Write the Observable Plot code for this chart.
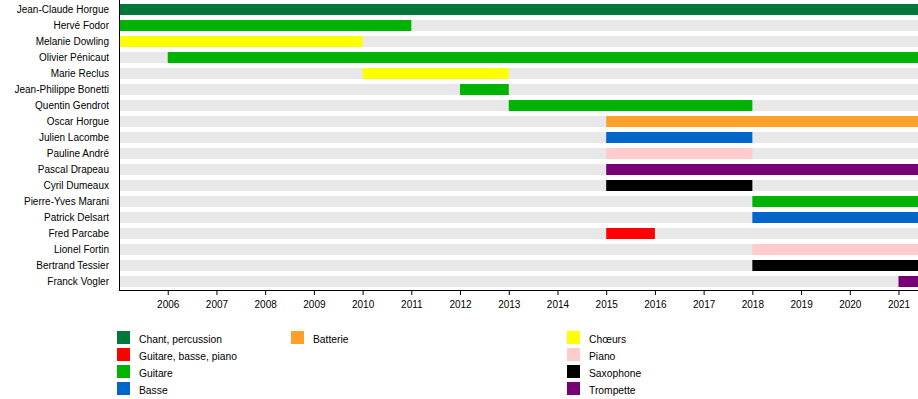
<!DOCTYPE html>
<html>
<head>
<meta charset="utf-8">
<script src="https://cdn.jsdelivr.net/npm/d3@7"></script>
<script src="https://cdn.jsdelivr.net/npm/@observablehq/plot@0.6"></script>
<style>
  html, body { margin: 0; padding: 0; background: #fff; }
  #wrap { position: relative; width: 918px; height: 399px; font-family: "Liberation Sans", Arial, sans-serif; }
  #wrap svg { display: block; }
  #legend { position: absolute; top: 331px; left: 117px; display: flex; font-size: 10.3px; color: #000; }
  .col { display: flex; flex-direction: column; }
  .item { display: flex; height: 17px; align-items: flex-start; }
  .sw { width: 13px; height: 13px; margin-right: 9px; }
  .lab { line-height: 17px; white-space: nowrap; }
</style>
</head>
<body>
<div id="wrap"><div id="legend"></div></div>
<script>
// ---- data ----
const members = [
  "Jean-Claude Horgue", "Hervé Fodor", "Melanie Dowling", "Olivier Pénicaut",
  "Marie Reclus", "Jean-Philippe Bonetti", "Quentin Gendrot", "Oscar Horgue",
  "Julien Lacombe", "Pauline André", "Pascal Drapeau", "Cyril Dumeaux",
  "Pierre-Yves Marani", "Patrick Delsart", "Fred Parcabe", "Lionel Fortin",
  "Bertrand Tessier", "Franck Vogler"
];
const timelineStart = 2005;
const timelineEnd = 2021.4;
const starts = [2005, 2005, 2005, 2006, 2010, 2012, 2013, 2015, 2015, 2015, 2015, 2015, 2018, 2018, 2015, 2018, 2018, 2021];
const ends   = [timelineEnd, 2011, 2010, timelineEnd, 2013, 2013, 2018, timelineEnd, 2018, 2018, timelineEnd, 2018, timelineEnd, timelineEnd, 2016, timelineEnd, timelineEnd, timelineEnd];
const roles  = [
  "Chant, percussion", "Guitare", "Chœurs", "Guitare",
  "Chœurs", "Guitare", "Guitare", "Batterie",
  "Basse", "Piano", "Trompette", "Saxophone",
  "Guitare", "Basse", "Guitare, basse, piano", "Piano",
  "Saxophone", "Trompette"
];
const instruments = ["Chant, percussion", "Guitare, basse, piano", "Guitare", "Basse", "Batterie", "Chœurs", "Piano", "Saxophone", "Trompette"];
const instrumentColors = ["#00773b", "#ff0000", "#00b300", "#0066cc", "#ffa02a", "#ffff00", "#ffcccc", "#000000", "#770077"];
const legendColumns = [
  ["Chant, percussion", "Guitare, basse, piano", "Guitare", "Basse"],
  ["Batterie"],
  ["Chœurs", "Piano", "Saxophone", "Trompette"]
];
const yearTicks = d3.range(2006, 2022);

// ---- build ----
const periods = members.map((name, i) => ({name, start: starts[i], end: ends[i], role: roles[i]}));
const rows = members.map(name => ({name, start: timelineStart, end: timelineEnd}));

const chart = Plot.plot({
  width: 918,
  height: 315,
  marginLeft: 119,
  marginRight: 0,
  marginTop: 0,
  marginBottom: 25,
  style: {fontFamily: '"Liberation Sans", Arial, sans-serif', fontSize: "10px", background: "#fff", color: "#000"},
  x: {domain: [timelineStart, timelineEnd], ticks: yearTicks, tickFormat: d => String(d), tickSize: 5, tickPadding: 5.5, label: null},
  y: {domain: members, paddingInner: 0.326, paddingOuter: 0.061, tickSize: 0, tickPadding: 10.5, label: null},
  color: {domain: instruments, range: instrumentColors},
  marks: [
    Plot.barX(rows, {y: "name", x1: "start", x2: "end", fill: "#e8e8e8"}),
    Plot.barX(periods, {y: "name", x1: "start", x2: "end", fill: "role"}),
    Plot.frame({anchor: "bottom", stroke: "#000"}),
    Plot.frame({anchor: "left", stroke: "#000"}),
    Plot.axisX({ticks: yearTicks, tickFormat: d => String(d), tickSize: 5, tickPadding: 5.5, label: null}),
    Plot.axisY({tickSize: 0, tickPadding: 10.5, label: null})
  ]
});
const wrap = document.getElementById("wrap");
wrap.insertBefore(chart, wrap.firstChild);

const colorOf = d3.scaleOrdinal(instruments, instrumentColors);
const legend = d3.select("#legend");
const colWidths = [174, 276, null];
legendColumns.forEach((col, ci) => {
  const c = legend.append("div").attr("class", "col");
  if (colWidths[ci]) c.style("width", colWidths[ci] + "px");
  col.forEach(name => {
    const it = c.append("div").attr("class", "item");
    it.append("div").attr("class", "sw").style("background", colorOf(name));
    it.append("div").attr("class", "lab").text(name);
  });
});
</script>
</body>
</html>
